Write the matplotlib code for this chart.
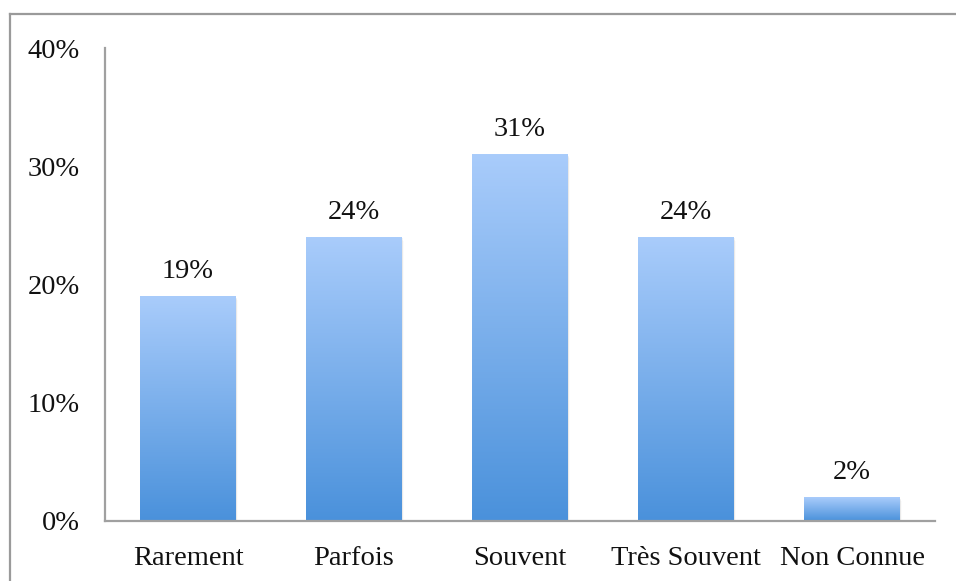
import matplotlib
matplotlib.use("Agg")
import matplotlib.pyplot as plt
import numpy as np
from matplotlib.colors import LinearSegmentedColormap
from matplotlib.patches import Rectangle
from matplotlib.ticker import FuncFormatter

categories = ["Rarement", "Parfois", "Souvent", "Très Souvent", "Non Connue"]
values = [0.19, 0.24, 0.31, 0.24, 0.02]
labels = ["19%", "24%", "31%", "24%", "2%"]
yticks = [0.0, 0.1, 0.2, 0.3, 0.4]

plt.rcParams['font.family'] = ['Liberation Serif', 'DejaVu Serif']
FS = 20.5

W, H = 956, 581
fig = plt.figure(figsize=(W / 100, H / 100), dpi=100)
ax = fig.add_axes([105 / W, (H - 521) / H, 830 / W, 473 / H])

# outer chart border (top and left visible)
fig.add_artist(plt.Line2D([9.5 / W, 9.5 / W], [0, (H - 13.5) / H], color="#9a9a9a", lw=1.6, transform=fig.transFigure))
fig.add_artist(plt.Line2D([9.5 / W, 1], [(H - 13.5) / H, (H - 13.5) / H], color="#9a9a9a", lw=1.6, transform=fig.transFigure))

x = np.arange(len(categories))
bw = 0.578
bars = ax.bar(x, values, width=bw, color="none", edgecolor="none", zorder=3)

cmap = LinearSegmentedColormap.from_list("g", ["#4A91DB", "#A9CCFB"])
grad = np.linspace(0, 1, 256).reshape(-1, 1)
for b in bars:
    x0, w, h = b.get_x(), b.get_width(), b.get_height()
    # soft shadow
    for k, a in enumerate([0.07, 0.04, 0.02]):
        sh = Rectangle((x0 + 0.004 * (k + 1), 0), w, h - 0.001 * (k + 1), facecolor="#555555", alpha=a,
                       edgecolor="none", zorder=2)
        ax.add_patch(sh)
    im = ax.imshow(grad, extent=[x0, x0 + w, 0, h], origin="lower", cmap=cmap, aspect="auto", zorder=3,
                   interpolation="bilinear")
    im.set_clip_path(b)

for xi, v, lab in zip(x, values, labels):
    ax.annotate(lab, (xi, v), xytext=(0, 9), textcoords="offset points", ha="center", va="bottom",
                fontsize=FS, color="#111111")

ax.set_xlim(-0.5, len(categories) - 0.5)
ax.set_ylim(0, 0.4)
ax.set_yticks(yticks)
ax.yaxis.set_major_formatter(FuncFormatter(lambda v, p: f"{v*100:.0f}%"))
ax.set_xticks(x)
ax.set_xticklabels(categories)
ax.tick_params(axis="both", length=0, labelsize=FS, colors="#111111")
ax.tick_params(axis="y", pad=18)
ax.tick_params(axis="x", pad=18)
for s in ["top", "right"]:
    ax.spines[s].set_visible(False)
for s in ["left", "bottom"]:
    ax.spines[s].set_color("#a0a0a0")
    ax.spines[s].set_linewidth(1.6)
    ax.spines[s].set_zorder(4)

fig.savefig("out.png", dpi=100)
